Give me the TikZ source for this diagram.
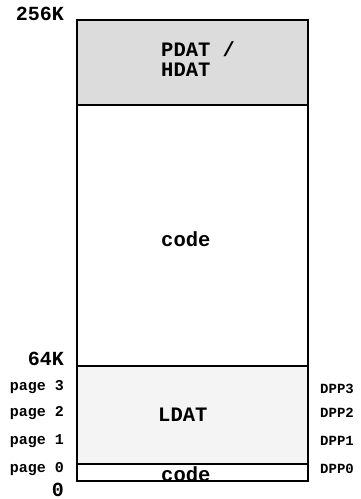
\documentclass[tikz,border=0pt]{standalone}
\usepackage{fontspec}
\setmainfont{Liberation Mono}
\definecolor{hdatgray}{HTML}{DCDCDC}
\definecolor{ldatgray}{HTML}{F4F4F4}
\tikzset{
  seg/.style={draw=black, line width=2pt},
  big/.style={inner sep=0pt, font=\fontsize{20.5}{20}\selectfont\bfseries},
  addr/.style={inner sep=0pt, anchor=base east, font=\fontsize{20}{20}\selectfont\bfseries},
  pagelbl/.style={inner sep=0pt, anchor=base east, font=\fontsize{15}{15}\selectfont\bfseries},
  dpplbl/.style={inner sep=0pt, anchor=base west, font=\fontsize{14}{14}\selectfont\bfseries}
}
\begin{document}
\begin{tikzpicture}[x=1pt,y=-1pt]
\useasboundingbox (0,0) rectangle (360,499);
% regions
\path[seg, fill=hdatgray] (77,20) rectangle (308,105);
\path[seg, fill=white] (77,105) rectangle (308,366);
\path[seg, fill=ldatgray] (77,366) rectangle (308,464);
\path[seg, fill=white] (77,464) rectangle (308,481);
% region texts
\node[big, anchor=base west, align=left] (hdat) at (161,76.7) {PDAT /\\HDAT};
\node[big, anchor=base west] (code) at (161,246.7) {code};
\node[big, anchor=base west] (ldat) at (158,421.7) {LDAT};
\node[big, anchor=base west] (code0) at (161,481) {code};
% addresses
\node[addr] (a256) at (64,20) {256K};
\node[addr] (a64) at (64,365) {64K};
\node[addr] (a0) at (64,496) {0};
% pages
\node[pagelbl] (p3) at (64,390.5) {page 3};
\node[pagelbl] (p2) at (64,416.7) {page 2};
\node[pagelbl] (p1) at (64,444) {page 1};
\node[pagelbl] (p0) at (64,472) {page 0};
% DPP
\node[dpplbl] (d3) at (320,393) {DPP3};
\node[dpplbl] (d2) at (320,417) {DPP2};
\node[dpplbl] (d1) at (320,445) {DPP1};
\node[dpplbl] (d0) at (320,473) {DPP0};
\end{tikzpicture}
\end{document}
